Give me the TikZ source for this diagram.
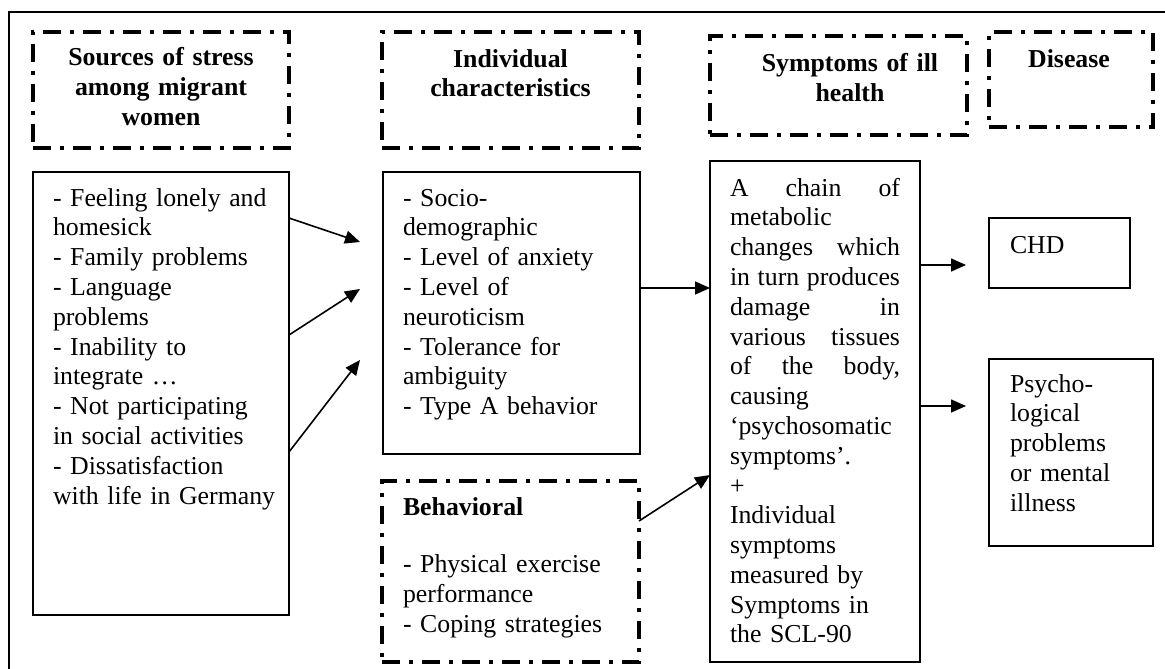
\documentclass[tikz,border=0pt]{standalone}
\usepackage{fontspec}
\setmainfont{Liberation Serif}
\usetikzlibrary{arrows.meta}
\begin{document}
\begin{tikzpicture}[x=1pt,y=-1pt,
  every node/.style={inner sep=0pt, outer sep=0pt},
  solidbox/.style={draw, line width=2pt, rectangle},
  dashbox/.style={draw, line width=4pt, rectangle, dash pattern=on 18pt off 9pt on 4pt off 9pt},
  body/.style={font=\fontsize{25.8}{29.8}\selectfont, align=left, anchor=base west},
  head/.style={font=\fontsize{25.8}{29.8}\selectfont\bfseries, align=center, anchor=base},
  arr/.style={line width=1.6pt, -{Triangle[length=15pt,width=13pt]}}
]
\useasboundingbox (0,0) rectangle (1165,669);
\fill[white] (0,0) rectangle (1165,669);
% outer frame (cut off at right and bottom)
\draw[line width=2pt] (9,669) -- (9,12.5) -- (1165,12.5);

% header boxes
\node[dashbox, minimum width=256pt, minimum height=116pt] (h1) at (161,90) {};
\node[dashbox, minimum width=257pt, minimum height=116pt] (h2) at (510.5,90) {};
\node[dashbox, minimum width=257pt, minimum height=99pt] (h3) at (838.5,85.5) {};
\node[dashbox, minimum width=164pt, minimum height=95pt] (h4) at (1071,79.5) {};

\node[head, text width=250pt] (h1t) at (161,66) {Sources of stress\\among migrant\\women};
\node[head, text width=250pt] (h2t) at (510.5,67) {Individual\\characteristics};
\node[head, text width=250pt] (h3t) at (850,72) {Symptoms of ill\\health};
\node[head, text width=160pt] (h4t) at (1069,68) {Disease};

% content boxes
\node[solidbox, minimum width=256pt, minimum height=443pt] (src) at (161,393.5) {};
\node[solidbox, minimum width=257pt, minimum height=282pt] (ind) at (511.5,313) {};
\node[dashbox, minimum width=257pt, minimum height=181pt] (beh) at (510.5,571.5) {};
\node[solidbox, minimum width=210pt, minimum height=501pt] (sym) at (815,411.5) {};
\node[solidbox, minimum width=141pt, minimum height=70pt] (chd) at (1059.5,253) {};
\node[solidbox, minimum width=164pt, minimum height=187pt] (psy) at (1071,452.5) {};

% texts
\node[body, text width=240pt] (srct) at (53,206) {- Feeling lonely and\\homesick\\- Family problems\\- Language\\problems\\- Inability to\\integrate …\\- Not participating\\in social activities\\- Dissatisfaction\\with life in Germany};
\node[body, text width=230pt] (indt) at (403,206) {- Socio-\\demographic\\- Level of anxiety\\- Level of\\neuroticism\\- Tolerance for\\ambiguity\\- Type A behavior};
\node[body, text width=230pt] (beht) at (403,515) {\textbf{Behavioral}\\[28pt]- Physical exercise\\performance\\- Coping strategies};
\node[body, text width=170pt] (symt) at (730,196) {A\hfill chain\hfill of\\metabolic\\changes\hfill which\\in\hfill turn\hfill produces\\damage\hfill in\\various\hfill tissues\\of\hfill the\hfill body,\\causing\\‘psychosomatic\\symptoms’.\\+\\Individual\\symptoms\\measured by\\Symptoms in\\the SCL-90};
\node[body, text width=120pt] (chdt) at (1010,253) {CHD};
\node[body, text width=140pt] (psyt) at (1010,392) {Psycho-\\logical\\problems\\or mental\\illness};

% free ends
\coordinate (t1) at (360,242);
\coordinate (t2) at (360,289);
\coordinate (t3) at (360,360);
\coordinate (c1) at (966,265);
\coordinate (c2) at (966,406);

% arrows
\draw[arr] ([yshift=175.5pt]src.east) -- (t1);
\draw[arr] ([yshift=58.5pt]src.east) -- (t2);
\draw[arr] ([yshift=-58.5pt]src.east) -- (t3);
\draw[arr] ([yshift=25pt]ind.east) -- ([yshift=123.5pt]sym.west);
\draw[arr] ([yshift=50.5pt]beh.east) -- ([yshift=-63.5pt]sym.west);
\draw[arr] ([yshift=146.5pt]sym.east) -- (c1);
\draw[arr] ([yshift=5.5pt]sym.east) -- (c2);
\end{tikzpicture}
\end{document}
